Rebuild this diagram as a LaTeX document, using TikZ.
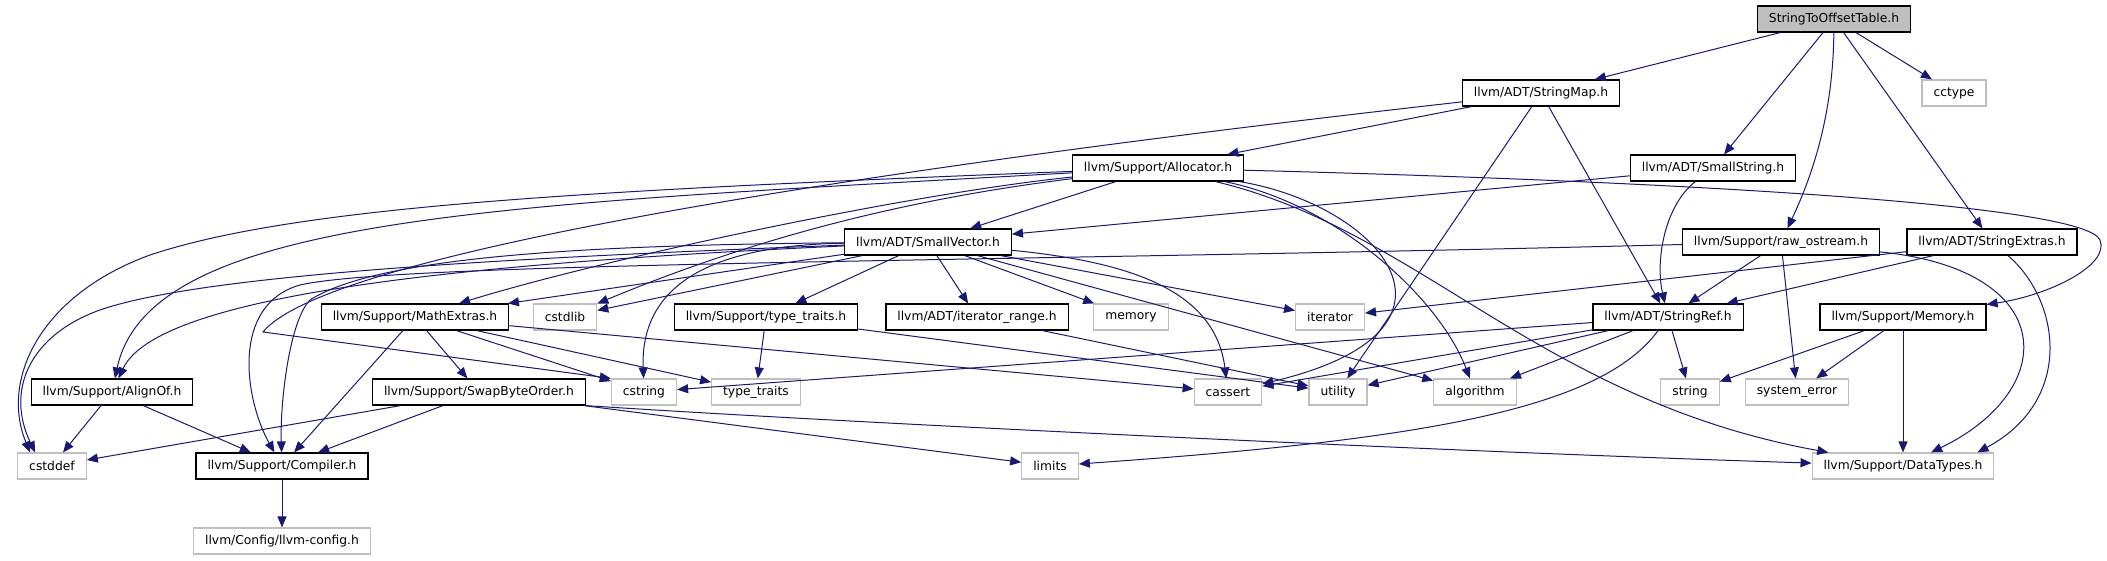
\documentclass[tikz,border=0pt]{standalone}
\usepackage{fontspec}
\setmainfont{DejaVu Sans}
\usepackage{tikz}
\usetikzlibrary{arrows.meta}
\definecolor{dxblue}{HTML}{191970}
\definecolor{dxgrey}{HTML}{BFBFBF}

\begin{document}
\begin{tikzpicture}[x=1pt, y=-1pt,
    hfile/.style={draw=black, fill=white, line width=1.2pt, minimum height=26pt,
                  inner xsep=11.5pt, font=\fontsize{12.3}{14}\selectfont},
    sysfile/.style={hfile, draw=dxgrey},
    mainfile/.style={hfile, fill=dxgrey},
    dep/.style={-{Triangle[length=11pt, width=9pt]}, dxblue, line width=1pt},
]
    \useasboundingbox (0,0) rectangle (2107,560);

    % Root header
    \node[mainfile] (stot) at (1834,19) {StringToOffsetTable.h};

    % Project headers
    \node[hfile] (stringmap)    at (1541,93)  {llvm/ADT/StringMap.h};
    \node[hfile] (allocator)    at (1158,168) {llvm/Support/Allocator.h};
    \node[hfile] (smallstring)  at (1713,168) {llvm/ADT/SmallString.h};
    \node[hfile] (smallvector)  at (928,242)  {llvm/ADT/SmallVector.h};
    \node[hfile] (rawostream)   at (1781,242) {llvm/Support/raw\_ostream.h};
    \node[hfile] (stringextras) at (1992,242) {llvm/ADT/StringExtras.h};
    \node[hfile] (mathextras)   at (415,317)  {llvm/Support/MathExtras.h};
    \node[hfile] (typetraitsh)  at (766,317)  {llvm/Support/type\_traits.h};
    \node[hfile] (iterrange)    at (977,317)  {llvm/ADT/iterator\_range.h};
    \node[hfile] (stringref)    at (1668,317) {llvm/ADT/StringRef.h};
    \node[hfile] (memoryh)      at (1903,317) {llvm/Support/Memory.h};
    \node[hfile] (alignof)      at (112,392)  {llvm/Support/AlignOf.h};
    \node[hfile] (swapbyte)     at (479,392)  {llvm/Support/SwapByteOrder.h};
    \node[hfile] (compiler)     at (282,466)  {llvm/Support/Compiler.h};

    % System / external headers
    \node[sysfile] (cctype)      at (1954,93)  {cctype};
    \node[sysfile] (cstdlib)     at (565,317)  {cstdlib};
    \node[sysfile] (memory)      at (1131,317) {memory};
    \node[sysfile] (iterator)    at (1330,317) {iterator};
    \node[sysfile] (cstring)     at (644,392)  {cstring};
    \node[sysfile] (typetraits)  at (756,392)  {type\_traits};
    \node[sysfile] (cassert)     at (1228,392) {cassert};
    \node[sysfile] (utility)     at (1338,392) {utility};
    \node[sysfile] (algorithm)   at (1475,392) {algorithm};
    \node[sysfile] (string)      at (1690,392) {string};
    \node[sysfile] (systemerror) at (1797,392) {system\_error};
    \node[sysfile] (cstddef)     at (52,466)   {cstddef};
    \node[sysfile] (limits)      at (1050,466) {limits};
    \node[sysfile] (datatypes)   at (1903,466) {llvm/Support/DataTypes.h};
    \node[sysfile] (llvmconfig)  at (282,541)  {llvm/Config/llvm-config.h};

    % StringToOffsetTable.h
    \draw[dep] (stot) -- (stringmap);
    \draw[dep] (stot) -- (smallstring);
    \draw[dep] (stot) .. controls (1833,110) and (1815,170) .. (rawostream);
    \draw[dep] (stot) -- (stringextras);
    \draw[dep] (stot) -- (cctype);

    % StringMap.h
    \draw[dep] (stringmap) -- (allocator);
    \draw[dep] (stringmap) -- (stringref);
    \draw[dep] (stringmap) -- (utility);
    \draw[dep] (stringmap) .. controls (900,165) and (330,250) .. (263,332) -- (cstring.north west);

    % SmallString.h
    \draw[dep] (smallstring) -- (smallvector);
    \draw[dep] (smallstring) .. controls (1665,205) and (1655,260) .. (stringref);

    % raw_ostream.h
    \draw[dep] (rawostream) -- (stringref);
    \draw[dep] (rawostream) -- (systemerror);
    \draw[dep] (rawostream) .. controls (2060,270) and (2060,390) .. (datatypes);
    \draw[dep] (rawostream) .. controls (1000,262) and (400,262) .. (300,285)
        .. controls (230,305) and (245,400) .. (compiler);

    % StringExtras.h
    \draw[dep] (stringextras) -- (stringref);
    \draw[dep] (stringextras) -- (iterator);
    \draw[dep] (stringextras) .. controls (2060,300) and (2075,400) .. ([xshift=-17pt]datatypes.north east);

    % Allocator.h
    \draw[dep] (allocator) -- (smallvector);
    \draw[dep] (allocator) .. controls (600,190) and (300,205) .. (150,255)
        .. controls (40,295) and (0,380) .. ([xshift=13pt]cstddef.north west);
    \draw[dep] (allocator) .. controls (500,205) and (150,215) .. (alignof);
    \draw[dep] (allocator) .. controls (900,195) and (600,260) .. (mathextras);
    \draw[dep] (allocator) .. controls (900,200) and (750,240) .. (cstdlib);
    \draw[dep] (allocator) .. controls (1700,182) and (2085,205) .. (2100,240)
        .. controls (2110,265) and (2050,295) .. (memoryh);
    \draw[dep] (allocator) .. controls (1340,205) and (1440,300) .. (algorithm);
    \draw[dep] (allocator) .. controls (1380,205) and (1490,330) .. (cassert);
    \draw[dep] (allocator) .. controls (1420,230) and (1540,400) .. (datatypes);

    % SmallVector.h
    \draw[dep] (smallvector) -- (typetraitsh);
    \draw[dep] (smallvector) -- (iterrange);
    \draw[dep] (smallvector) -- (memory);
    \draw[dep] (smallvector) -- (iterator);
    \draw[dep] (smallvector) -- (algorithm);
    \draw[dep] (smallvector) -- (mathextras);
    \draw[dep] (smallvector) -- (cstdlib);
    \draw[dep] (smallvector) .. controls (1130,262) and (1215,290) .. (cassert);
    \draw[dep] (smallvector) .. controls (720,245) and (640,280) .. (cstring);
    \draw[dep] (smallvector) .. controls (500,262) and (160,290) .. (alignof);
    \draw[dep] (smallvector) .. controls (600,245) and (380,255) .. (310,300)
        .. controls (290,320) and (280,400) .. (compiler);
    \draw[dep] (smallvector) .. controls (500,258) and (200,275) .. (100,310)
        .. controls (30,335) and (5,390) .. ([xshift=18pt]cstddef.north west);

    % StringRef.h
    \draw[dep] (stringref) -- (string);
    \draw[dep] (stringref) -- (algorithm);
    \draw[dep] (stringref) -- (cassert);
    \draw[dep] (stringref) -- (utility);
    \draw[dep] (stringref) -- (cstring);
    \draw[dep] (stringref) .. controls (1600,410) and (1420,440) .. (limits);

    % Memory.h
    \draw[dep] (memoryh) -- (datatypes);
    \draw[dep] (memoryh) -- (string);
    \draw[dep] (memoryh) -- (systemerror);

    % MathExtras.h
    \draw[dep] (mathextras) -- (compiler);
    \draw[dep] (mathextras) -- (swapbyte);
    \draw[dep] (mathextras) -- (cstring);
    \draw[dep] (mathextras) -- (typetraits);
    \draw[dep] (mathextras) -- (cassert);

    % SwapByteOrder.h
    \draw[dep] (swapbyte) -- (compiler);
    \draw[dep] (swapbyte) -- (cstddef);
    \draw[dep] (swapbyte) -- (limits);
    \draw[dep] (swapbyte.south east) .. controls (800,420) and (1400,450) .. (datatypes);

    % small leaves
    \draw[dep] (typetraitsh) -- (typetraits);
    \draw[dep] (typetraitsh) -- (utility);
    \draw[dep] (iterrange) -- (utility);
    \draw[dep] (alignof) -- (cstddef);
    \draw[dep] (alignof) -- (compiler);
    \draw[dep] (compiler) -- (llvmconfig);
\end{tikzpicture}
\end{document}
